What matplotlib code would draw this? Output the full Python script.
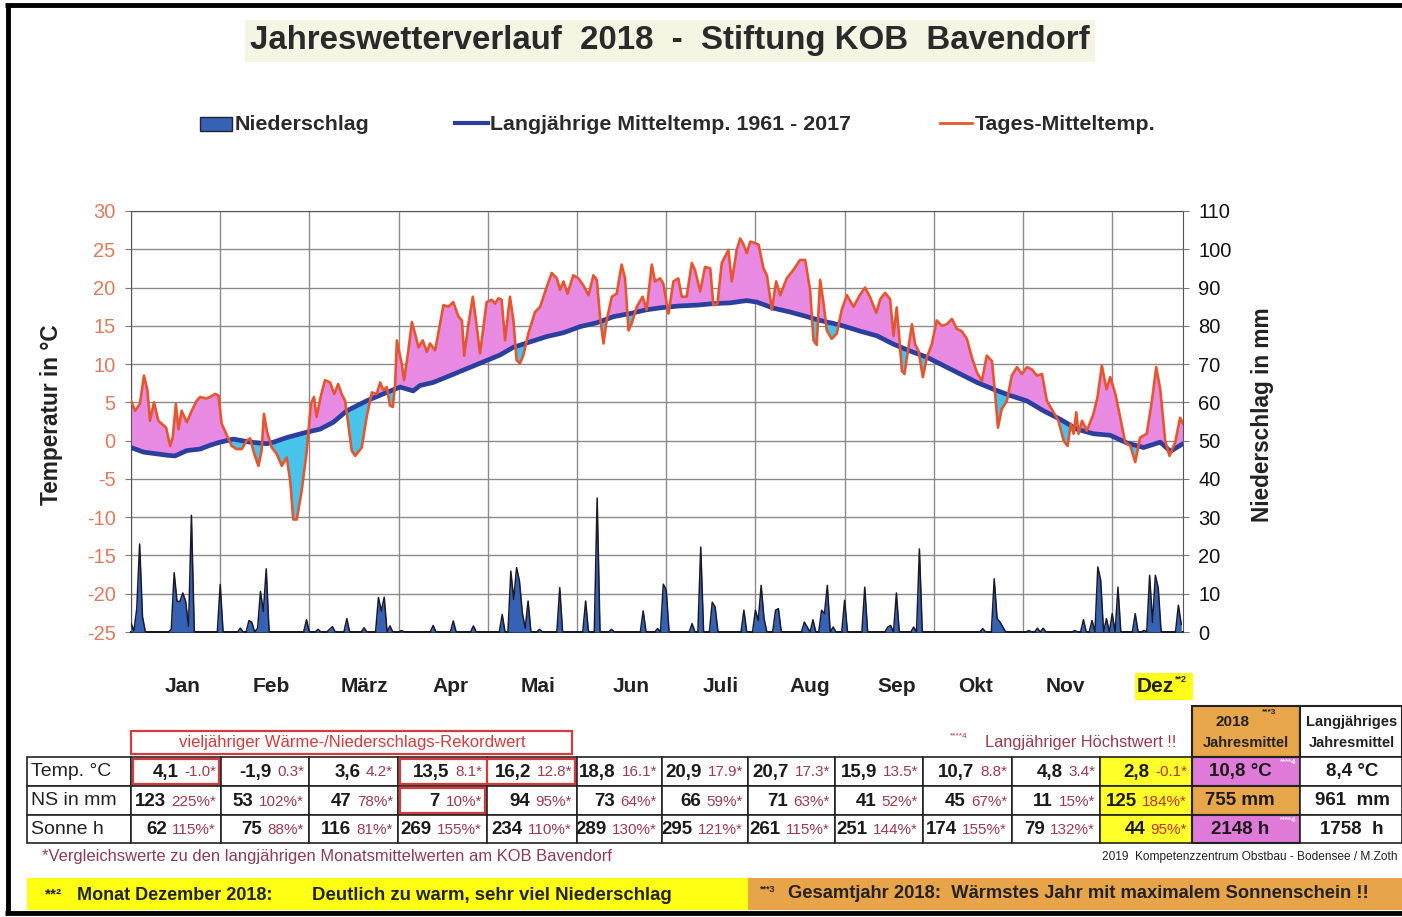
import numpy as np
import matplotlib
matplotlib.use('Agg')
import matplotlib.pyplot as plt
from matplotlib.patches import Rectangle

plt.rcParams['font.family'] = ['Liberation Sans', 'DejaVu Sans']

# ---------------- data ----------------
temp_days = [0, 1.4, 3.1, 4.5, 5.7, 6.6, 8, 9.5, 10.7, 12.2, 13.6, 14.5, 15.6, 16.5, 17.6, 19.4, 21.1, 22.8, 24, 26,
             27.5, 29.2, 30.4, 31.5, 33.3, 35, 36.7, 38.5, 40.2, 41.4, 42.8, 44.3, 45.4, 46.2, 47.2, 48.9, 50.6, 52.4,
             54.1, 55.3, 56.4, 57.6, 59.3, 61.1, 62.5, 63.6, 64.5, 65.9, 67.4, 69.2, 70.6, 72, 73.2, 74.4, 75.5, 76.7,
             77.9, 80.2, 81.9, 83.7, 85.4, 86.6, 87.7, 88.9, 90, 91, 91.8, 92.4, 94.1, 94.9, 96.4, 97.6, 98.7, 99.9,
             101.4, 102.8, 103.9, 105.7, 107.4, 108.6, 110.3, 112, 113.8, 115, 115.8, 117.3, 118.8, 119.9,
             121.3, 123.6, 125.4, 126.5, 127.7, 128.8, 130, 131.7, 132.9, 134, 135.2, 136.4, 138.1, 140.4, 142.2,
             144.5, 146.2, 148, 149.1, 150.3, 151.7, 153.7, 155.5, 157.2, 159, 160.7, 161.9, 163, 164.2, 165.3,
             167.1, 168.8, 170.5, 171.7, 172.9, 174, 175.8, 177.8, 179.2, 181, 182.1, 183.9, 185, 186.8, 188.5,
             190.2, 191.4, 193.1, 194.9, 196, 197.8, 199.5, 201.3, 202.4, 203.8, 205.3, 207.6, 208.8, 210.5, 211.7,
             212.8, 214, 215.2, 216.9, 218.1, 219.8, 221, 222.7, 224.2, 225.6, 227.9, 230.2, 232.5, 234.3, 236,
             237.2, 238.3, 239.5, 240.7, 241.8, 243.5, 245.3, 247, 248.8, 251.1,
             253.4, 255.1, 256.9, 259, 260.4, 262.1, 263.8, 265, 266.1, 267.1, 267.9, 268.8, 270.2, 271.4, 272.5,
             273.7, 275.2, 276.6, 278.3, 280, 281.8, 283.5, 285.3, 287, 288.7, 290.5, 292.2, 294, 295.7, 297.4,
             299.2, 300.3, 301.3, 302.6, 304.4, 306.1, 307.9, 309.6, 311.3, 313.1, 314.8, 316.6, 318.3, 320.6,
             322.3, 324.1, 325.5, 326.6, 327.6, 328.5, 329.3, 330.5, 332.2, 334.5, 335.9, 337.4, 339, 340.3, 342.1,
             343.8, 345.5, 347.3, 349, 350.7, 353, 354.8, 356.3, 357.7, 359.4, 360.9, 362.9, 364.6, 365.6]
temp_vals = [5.2, 3.9, 4.8, 8.5, 6.6, 2.6, 5.0, 2.6, 2.2, 1.7, -0.7, 0.4, 4.8, 1.5, 3.9, 2.4, 3.9, 5.2, 5.7, 5.5,
             5.7, 6.1, 5.9, 2.2, 0.7, -0.7, -1.1, -1.1, 0.0, 0.3, -1.7, -3.3, -1.3, 3.5, 1.3, -0.9, -1.7, -3.3,
             -2.2, -5.2, -10.3, -10.3, -6.6, -1.3, 4.8, 5.7, 3.1, 5.7, 7.9, 7.6, 6.1, 7.4, 6.1, 5.2, 2.2, -1.3,
             -2.0, -0.9, 3.1, 6.3, 6.1, 7.6, 6.6, 7.0, 4.6, 4.4, 7.4, 13.1, 10.0, 7.9, 11.8, 15.5, 14.0, 12.2,
             13.1, 11.6, 12.7, 11.8, 15.3, 17.7, 17.5, 18.1, 16.2, 15.7, 11.1, 15.3, 18.8, 15.7,
             11.4, 18.1, 18.4, 17.9, 18.6, 18.4, 13.1, 18.8, 15.7, 10.5, 10.1, 11.2, 14.0, 16.8, 17.5,
             20.1, 21.9, 21.2, 19.7, 20.8, 19.2, 21.6, 21.2, 20.3, 19.0, 21.6, 21.0, 16.2, 12.7, 15.7,
             18.8, 19.2, 23.0, 21.2, 14.4, 15.3, 17.5, 18.8, 17.1, 23.0, 20.8, 21.2, 20.5, 16.6, 20.8,
             21.2, 18.8, 18.8, 23.2, 22.3, 19.5, 22.7, 22.5, 17.7, 17.9, 23.2, 24.9, 20.8, 24.9, 26.4,
             25.7, 24.5, 26.0, 25.8, 25.6, 22.5, 21.6, 17.1, 20.8, 19.0, 21.2, 22.3, 23.6, 23.6, 19.7,
             13.1, 12.5, 21.0, 17.9, 14.4, 13.3, 14.0, 17.1, 19.0, 17.5,
             19.1, 20.0, 18.7, 16.7, 18.5, 19.3, 18.5, 13.7, 17.4, 13.0, 9.1, 8.7, 12.2, 15.2, 12.6,
             11.7, 8.3, 10.9, 12.6, 15.7, 15.0, 15.2, 15.9, 14.6, 14.3, 13.3, 10.9, 8.9, 7.8, 11.1,
             10.4, 6.1, 1.7, 4.1, 5.2, 8.5, 9.6, 8.7, 9.6, 9.3, 8.5, 8.7, 5.2, 3.7,
             2.6, 0.0, -0.7, 2.2, 0.9, 3.7, 0.9, 2.6, 1.3, 3.5, 5.7, 9.8, 6.7, 8.3, 6.1,
             3.0, -0.2, -0.7, -2.8, 0.4, 0.9, 5.2, 9.6, 6.7, 0.0, -2.0, -0.2, 3.0, 2.2]

mean_days = [0, 4.4, 12.4, 15.3, 19.4, 24, 27.5, 30.9, 35.6, 41.4, 47.2, 49.5, 54.1, 61, 65.7, 70.3, 75, 81.9,
             88.9, 93.5, 98.1, 100.4, 105, 110.9, 116.7, 122.5, 128.3, 132.9, 138.7, 144.5, 150.3, 156.1, 161.9,
             167.7, 173.4, 179.2, 185, 190.8, 196.6, 202.4, 208.2, 214, 217.5, 223.3, 229.1, 234.9, 239.5, 246.5,
             253.4, 259.2, 265, 270.8, 276.6, 282.4, 288.2, 294, 299.8, 305.5, 311.3, 317.1, 322.9, 328.7, 334.5,
             340.3, 346.1, 351.9, 357.7, 361.2, 365.6]
mean_vals = [-0.9, -1.5, -1.9, -2.0, -1.3, -1.1, -0.6, -0.2, 0.2, -0.2, -0.4, -0.2, 0.4, 1.1, 1.5, 2.4, 3.9, 5.2,
             6.3, 7.0, 6.5, 7.2, 7.6, 8.5, 9.4, 10.3, 11.2, 12.2, 12.9, 13.6, 14.1, 14.9, 15.4,
             16.2, 16.6, 17.1, 17.4, 17.6, 17.7, 17.9, 18.0, 18.3, 18.1, 17.3, 16.8, 16.2, 15.7, 15.1,
             14.3, 13.7, 12.6, 11.7, 10.9, 9.8, 8.7, 7.6, 6.7, 5.9, 5.2, 3.9, 2.8, 1.5, 0.9,
             0.7, -0.3, -0.9, -0.2, -1.4, -0.4]

rain_days = [0, 1, 2, 3, 4, 14, 15, 16, 17, 18, 19, 20, 21, 31, 38, 41, 42, 44, 45, 46, 47, 61, 65, 69, 70, 75, 81,
             86, 87, 88, 90, 94, 105, 112, 119, 129, 132, 133, 134, 135, 136, 137, 138, 142, 149, 158, 162,
             167, 178, 183, 185, 186, 195, 198, 202, 203, 213, 217, 218, 219, 220, 224, 225, 234, 235, 237,
             240, 241, 242, 244, 248, 255, 263, 264, 266, 272, 274, 296, 300, 301, 302, 303, 312, 315, 317,
             328, 331, 334, 336, 337, 339, 341, 343, 349, 352, 354, 355, 356, 357, 364, 365]
rain_mm = [2.3, 0.3, 6, 23, 4, 0.7, 15.5, 8, 8, 10.2, 8, 1.5, 30.5, 12.4, 1.0, 3.0, 2.5, 1.0, 10.6, 5.4, 16.5,
           3.2, 0.7, 0.7, 1.4, 3.5, 1.1, 9.0, 5.5, 9.1, 1.6, 0.4, 1.7, 2.9, 1.6, 4.6, 15.9, 8.5, 16.8, 13.3, 5, 1,
           8.1, 0.7, 11.6, 8.1, 35, 0.7, 5.5, 0.9, 12.5, 11.0, 2.2, 22.2, 7.8, 6.5, 5.7, 5.7, 3, 12.2, 3.5, 5.7,
           6.1, 2.6, 1.3, 3.2, 5.7, 4.8, 12.2, 1.3, 8.3, 11.7, 1.3, 1.7, 10.2, 1.3, 21.7, 0.9, 13.9, 3.5, 2.6, 1.3,
           0.4, 1.0, 1.0, 0.4, 3.2, 3.0, 17.0, 13.5, 3.5, 4.8, 11.7, 4.8, 0.4, 14.8, 2.5, 14.8, 11.5, 7.0, 2.0]

months = ["Jan", "Feb", "März", "Apr", "Mai", "Jun", "Juli", "Aug", "Sep", "Okt", "Nov", "Dez"]
temp_ticks = [-25, -20, -15, -10, -5, 0, 5, 10, 15, 20, 25, 30]
rain_ticks = [0, 10, 20, 30, 40, 50, 60, 70, 80, 90, 100, 110]

row_labels = ["Temp. °C", "NS in mm", "Sonne h"]
temp_month = ["4,1", "-1,9", "3,6", "13,5", "16,2", "18,8", "20,9", "20,7", "15,9", "10,7", "4,8", "2,8"]
temp_cmp = ["-1.0*", "0.3*", "4.2*", "8.1*", "12.8*", "16.1*", "17.9*", "17.3*", "13.5*", "8.8*", "3.4*", "-0.1*"]
ns_month = ["123", "53", "47", "7", "94", "73", "66", "71", "41", "45", "11", "125"]
ns_cmp = ["225%*", "102%*", "78%*", "10%*", "95%*", "64%*", "59%*", "63%*", "52%*", "67%*", "15%*", "184%*"]
sun_month = ["62", "75", "116", "269", "234", "289", "295", "261", "251", "174", "79", "44"]
sun_cmp = ["115%*", "88%*", "81%*", "155%*", "110%*", "130%*", "121%*", "115%*", "144%*", "155%*", "132%*", "95%*"]
year_vals = ["10,8 °C", "755 mm", "2148 h"]
longterm_vals = ["8,4 °C", "961  mm", "1758  h"]

# ---------------- figure ----------------
W, H = 1402, 917
fig = plt.figure(figsize=(W / 100, H / 100), dpi=100)
fig.patch.set_facecolor('white')

ov = fig.add_axes([0, 0, 1, 1])
ov.set_xlim(0, W)
ov.set_ylim(H, 0)
ov.axis('off')

PINK = '#e98ae2'
CYAN = '#48c3ea'
ORANGE = '#e4572e'
MEANBLUE = '#2c3f9f'
RAINBLUE = '#3562b4'
SALMON = '#e07a5c'
MAROON = '#9a3a4e'
INK = '#222222'

L, R, T, B = 131, 1183, 211, 632
ax = fig.add_axes([L / W, 1 - B / H, (R - L) / W, (B - T) / H])
ax.set_xlim(0, 365.6)
ax.set_ylim(-25, 30)
ax.set_xticks(np.arange(0, 342, 31))
ax.set_xticklabels([])
ax.tick_params(axis='x', length=0)
ax.set_yticks(temp_ticks)
ax.set_yticklabels([str(t) for t in temp_ticks])
ax.tick_params(axis='y', colors='#777777', labelcolor=SALMON, labelsize=14.5, length=4, pad=7)
ax.grid(True, color='#8a8a8a', lw=1.0)
ax.set_axisbelow(True)
for s in ax.spines.values():
    s.set_color('#555555')
ax.spines['bottom'].set_color('#111111')
ax.spines['bottom'].set_linewidth(1.4)

xs = np.linspace(0, 365.6, 4000)
ti = np.interp(xs, temp_days, temp_vals)
mi = np.interp(xs, mean_days, mean_vals)
ax.fill_between(xs, mi, ti, where=ti >= mi, interpolate=True, color=PINK, lw=0, zorder=2)
ax.fill_between(xs, mi, ti, where=ti < mi, interpolate=True, color=CYAN, lw=0, zorder=2)
ax.plot(mean_days, mean_vals, color=MEANBLUE, lw=3.4, zorder=3, solid_capstyle='round')
ax.plot(temp_days, temp_vals, color=ORANGE, lw=1.9, zorder=4, solid_joinstyle='round')

ax2 = ax.twinx()
ax2.set_ylim(0, 110)
ax2.set_yticks(rain_ticks)
ax2.set_yticklabels([str(t) for t in rain_ticks])
ax2.tick_params(axis='y', colors='#777777', labelcolor='#111111', labelsize=14.5, length=4, pad=7)
for s in ax2.spines.values():
    s.set_visible(False)
rain = np.zeros(366)
rain[np.array(rain_days)] = rain_mm
dd = np.arange(366)
ax2.fill_between(dd, 0, rain, color=RAINBLUE, lw=0, zorder=2)
ax2.plot(dd, rain, color='#1a1a2a', lw=1.1, zorder=3)

# axis titles
ov.text(52, 415, "Temperatur in °C", rotation=90, ha='center', va='center', fontsize=16.3, fontweight='bold', color=INK)
ov.text(1263, 415, "Niederschlag in mm", rotation=90, ha='center', va='center', fontsize=16.3, fontweight='bold', color=INK)

# month labels
month_x = [183, 271, 364, 451, 538, 631, 721, 810, 897, 976, 1065, 1155]
ov.add_patch(Rectangle((1135, 673), 58, 27, facecolor='#ffff1a', edgecolor='none'))
for m, x in zip(months, month_x):
    ov.text(x, 687, m, ha='center', va='center', fontsize=15, fontweight='bold', color=INK)
ov.text(1175, 680, "**2", ha='left', va='center', fontsize=6.5, fontweight='bold', color=INK)

# title
ov.add_patch(Rectangle((245, 20), 850, 42, facecolor='#f4f5e3', edgecolor='none'))
ov.text(670, 41, "Jahreswetterverlauf  2018  -  Stiftung KOB  Bavendorf", ha='center', va='center',
        fontsize=23.8, fontweight='bold', color='#2a2a2a')

# legend
ov.add_patch(Rectangle((200, 117), 32, 14, facecolor=RAINBLUE, edgecolor='#222233', lw=1))
ov.text(235, 124, "Niederschlag", ha='left', va='center', fontsize=15.4, fontweight='bold', color='#2a2a2a')
ov.plot([455, 488], [123, 123], color=MEANBLUE, lw=3)
ov.text(490, 124, "Langjährige Mitteltemp. 1961 - 2017", ha='left', va='center', fontsize=15.4, fontweight='bold', color='#2a2a2a')
ov.plot([940, 972], [123, 123], color=ORANGE, lw=2)
ov.text(975, 124, "Tages-Mitteltemp.", ha='left', va='center', fontsize=15.4, fontweight='bold', color='#2a2a2a')

# frame
ov.plot([5, W], [5, 5], color='black', lw=3.5, solid_capstyle='butt')
ov.plot([8, 8], [5, 913], color='black', lw=3.5, solid_capstyle='butt')
ov.plot([5, W], [913, 913], color='black', lw=3.5, solid_capstyle='butt')

# ---------------- table ----------------
col_edges = [27, 131, 221, 309, 398, 487, 577, 662, 748, 835, 923, 1012, 1100, 1192, 1300, 1402]
row_edges = [757, 786, 815, 843]
month_nums = [temp_month, ns_month, sun_month]
month_cmps = [temp_cmp, ns_cmp, sun_cmp]

ov.add_patch(Rectangle((131, 731), 441, 23, facecolor='white', edgecolor='#d23c3c', lw=1.6))
ov.text(352, 743, "vieljähriger Wärme-/Niederschlags-Rekordwert", ha='center', va='center', fontsize=12, color='#d23c3c')
ov.text(950, 737, "****4", ha='left', va='center', fontsize=6, color=MAROON)
ov.text(985, 742, "Langjähriger Höchstwert !!", ha='left', va='center', fontsize=11.8, color=MAROON)
ov.add_patch(Rectangle((1192, 706), 108, 51, facecolor='#e8a64a', edgecolor=INK, lw=1.5))
ov.text(1233, 722, "2018", ha='center', va='center', fontsize=11, fontweight='bold', color=INK)
ov.text(1262, 712, "***3", ha='left', va='center', fontsize=6, fontweight='bold', color=INK)
ov.text(1246, 743, "Jahresmittel", ha='center', va='center', fontsize=10.5, fontweight='bold', color=INK)
ov.add_patch(Rectangle((1300, 706), 102, 51, facecolor='white', edgecolor=INK, lw=1.5))
ov.text(1352, 722, "Langjähriges", ha='center', va='center', fontsize=10.5, fontweight='bold', color=INK)
ov.text(1352, 743, "Jahresmittel", ha='center', va='center', fontsize=10.5, fontweight='bold', color=INK)

year_colors = ['#e07ad8', '#e8a64a', '#e07ad8']
for r in range(3):
    y0, y1 = row_edges[r], row_edges[r + 1]
    yc = (y0 + y1) / 2
    ov.add_patch(Rectangle((col_edges[0], y0), col_edges[1] - col_edges[0], y1 - y0, facecolor='white', edgecolor=INK, lw=1.2))
    ov.text(col_edges[0] + 4, yc, row_labels[r], ha='left', va='center', fontsize=14, color=INK)
    for c in range(12):
        x0, x1 = col_edges[c + 1], col_edges[c + 2]
        fc = '#ffff2a' if c == 11 else 'white'
        ov.add_patch(Rectangle((x0, y0), x1 - x0, y1 - y0, facecolor=fc, edgecolor=INK, lw=1.2))
        cmp_t = ov.text(x1 - 5, yc + 1, month_cmps[r][c], ha='right', va='center', fontsize=11,
                        color=MAROON if c < 11 else '#c0302c')
        ov.annotate(month_nums[r][c], xy=(0, 0.5), xycoords=cmp_t, xytext=(-4, 0), textcoords='offset points',
                    ha='right', va='center', fontsize=13.5, fontweight='bold', color='#1a1a1a')
    ov.add_patch(Rectangle((1192, y0), 108, y1 - y0, facecolor=year_colors[r], edgecolor=INK, lw=1.5))
    ov.text(1240, yc, year_vals[r], ha='center', va='center', fontsize=13.5, fontweight='bold', color='#1a1a1a')
    if r != 1:
        ov.text(1280, y0 + 6, "****4", ha='left', va='center', fontsize=5.5, color='white', fontweight='bold')
    ov.add_patch(Rectangle((1300, y0), 102, y1 - y0, facecolor='white', edgecolor=INK, lw=1.2))
    ov.text(1352, yc, longterm_vals[r], ha='center', va='center', fontsize=13.5, fontweight='bold', color='#1a1a1a')

for (x0, y0, w, h) in [(133, 759, 86, 25), (400, 759, 175, 25), (400, 788, 85, 25)]:
    ov.add_patch(Rectangle((x0, y0), w, h, facecolor='none', edgecolor='#d23c3c', lw=1.6))
ov.plot([487, 487], [759, 784], color='#d23c3c', lw=1.6)

ov.text(42, 857, "*Vergleichswerte zu den langjährigen Monatsmittelwerten am KOB Bavendorf", ha='left', va='center', fontsize=11.9, color='#8a3a5a')
ov.text(1398, 857, "2019  Kompetenzzentrum Obstbau - Bodensee / M.Zoth", ha='right', va='center', fontsize=8.6, color=INK)

# bottom banner
ov.add_patch(Rectangle((27, 878), 721, 32, facecolor='#ffff14', edgecolor='none'))
ov.add_patch(Rectangle((748, 878), W - 748, 32, facecolor='#e8a448', edgecolor='none'))
ov.text(45, 894, "**²", ha='left', va='center', fontsize=11, fontweight='bold', color=INK)
ov.text(77, 895, "Monat Dezember 2018:", ha='left', va='center', fontsize=13, fontweight='bold', color=INK)
ov.text(312, 895, "Deutlich zu warm, sehr viel Niederschlag", ha='left', va='center', fontsize=13.4, fontweight='bold', color=INK)
ov.text(760, 890, "***3", ha='left', va='center', fontsize=6.5, fontweight='bold', color=INK)
ov.text(788, 894, "Gesamtjahr 2018:  Wärmstes Jahr mit maximalem Sonnenschein !!", ha='left', va='center', fontsize=13.2, fontweight='bold', color=INK)

fig.savefig('out.png', dpi=100)
